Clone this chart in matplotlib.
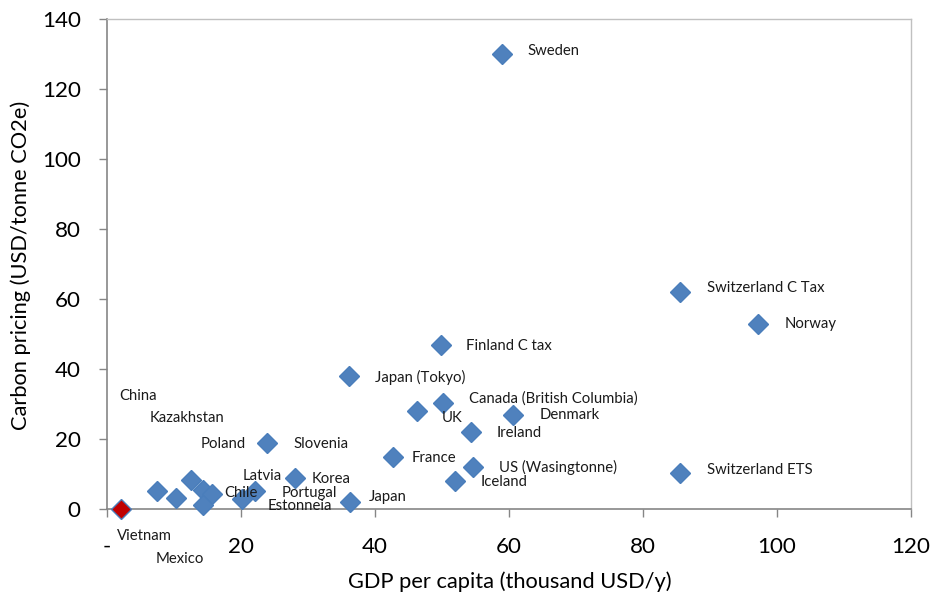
import matplotlib
matplotlib.use("Agg")
import matplotlib.pyplot as plt

plt.rcParams['font.family'] = ['Lato', 'DejaVu Sans']

# ---- data ----
countries = ["Vietnam", "China", "Kazakhstan", "Poland", "Latvia", "Chile", "Mexico",
             "Estonneia", "Portugal", "Slovenia", "Korea", "Japan", "Japan (Tokyo)",
             "France", "UK", "Canada (British Columbia)", "Finland C tax", "Iceland",
             "Ireland", "US (Wasingtonne)", "Sweden", "Denmark", "Switzerland C Tax",
             "Switzerland ETS", "Norway"]
gdp = [2.1, 7.5, 10.3, 12.5, 14.4, 15.7, 14.3,
       20.1, 22.1, 23.9, 28.0, 36.2, 36.1,
       42.7, 46.3, 50.2, 49.9, 52.0,
       54.3, 54.7, 59.0, 60.6, 85.5,
       85.5, 97.2]
price = [0.0, 5.1, 3.1, 8.3, 5.4, 4.3, 1.1,
         2.8, 5.2, 19.0, 9.0, 2.0, 38.0,
         15.0, 28.0, 30.2, 46.9, 8.1,
         21.9, 12.1, 130.0, 27.0, 62.0,
         10.3, 52.9]

# label anchor positions (data units, left-aligned)
label_x = [1.5, 1.9, 6.3, 14.0, 20.3, 17.5, 7.3,
           24.0, 26.0, 27.9, 30.6, 39.0, 40.0,
           45.4, 49.9, 54.0, 53.6, 55.8,
           58.2, 58.5, 62.7, 64.5, 89.5,
           89.6, 101.2]
label_y = [-7.7, 32.3, 26.0, 18.6, 9.5, 4.6, -14.3,
           0.9, 4.6, 18.6, 8.6, 3.5, 37.7,
           14.5, 25.9, 31.6, 46.6, 7.8,
           21.8, 11.8, 130.9, 26.8, 63.0,
           11.1, 52.9]

xticks = [0, 20, 40, 60, 80, 100, 120]
xticklabels = ["-", "20", "40", "60", "80", "100", "120"]
yticks = [0, 20, 40, 60, 80, 100, 120, 140]


def fit_size(text_artist, target_px, renderer, horizontal=True):
    bb = text_artist.get_window_extent(renderer)
    w = bb.width if horizontal else bb.height
    if w > 0:
        text_artist.set_fontsize(text_artist.get_fontsize() * target_px / w)
    return text_artist.get_fontsize()


# ---- figure ----
fig = plt.figure(figsize=(9.34, 5.96), dpi=100)
ax = fig.add_axes([107 / 934, 87 / 596, 804 / 934, 490 / 596])

colors = ["#C00000" if c == "Vietnam" else "#4F81BD" for c in countries]
for gx, py, c in zip(gdp, price, colors):
    ax.plot(gx, py, marker='D', markersize=10.5, markerfacecolor=c,
            markeredgecolor="#4A7EBB", markeredgewidth=1.0, linestyle='none',
            clip_on=False, zorder=3)

ax.set_xlim(0, 120)
ax.set_ylim(0, 140)
ax.set_xticks(xticks)
ax.set_xticklabels(xticklabels)
ax.set_yticks(yticks)
ax.tick_params(axis='both', direction='out', length=6, width=1, color='#868686',
               labelsize=16, labelcolor='#000000')
ax.tick_params(axis='x', pad=14)
ax.tick_params(axis='y', pad=13)

for s in ['left', 'bottom']:
    ax.spines[s].set_color('#868686')
    ax.spines[s].set_linewidth(1.2)
for s in ['top', 'right']:
    ax.spines[s].set_color('#C0C0C0')
    ax.spines[s].set_linewidth(1.0)

xl = ax.set_xlabel("GDP per capita (thousand USD/y)", fontsize=15)
yl = ax.set_ylabel("Carbon pricing (USD/tonne CO2e)", fontsize=15)

fig.canvas.draw()
r = fig.canvas.get_renderer()

# match text sizes of the reference
fit_size(xl, 325, r)
yl.set_fontsize(xl.get_fontsize())
probe = ax.text(0, 0, "Canada (British Columbia)", fontsize=10)
lab_fs = fit_size(probe, 168, r)
probe.remove()
probe = fig.text(0, 0, "140", fontsize=16)
tick_fs = fit_size(probe, 39, r)
probe.remove()
ax.tick_params(axis='both', labelsize=tick_fs)

# place axis titles at reference positions (pixels -> axes coords)
ax.xaxis.set_label_coords((510 - 107) / 804, (509 - 588) / 490)
xl.set_va('baseline')
ax.yaxis.set_label_coords((10 - 107) / 804, (509 - 265) / 490)
yl.set_va('top')

for name, lx, ly in zip(countries, label_x, label_y):
    ax.text(lx, ly, name, ha='left', va='center', fontsize=lab_fs, color='#1a1a1a',
            clip_on=False, zorder=4)

fig.savefig("out.png", dpi=100)
